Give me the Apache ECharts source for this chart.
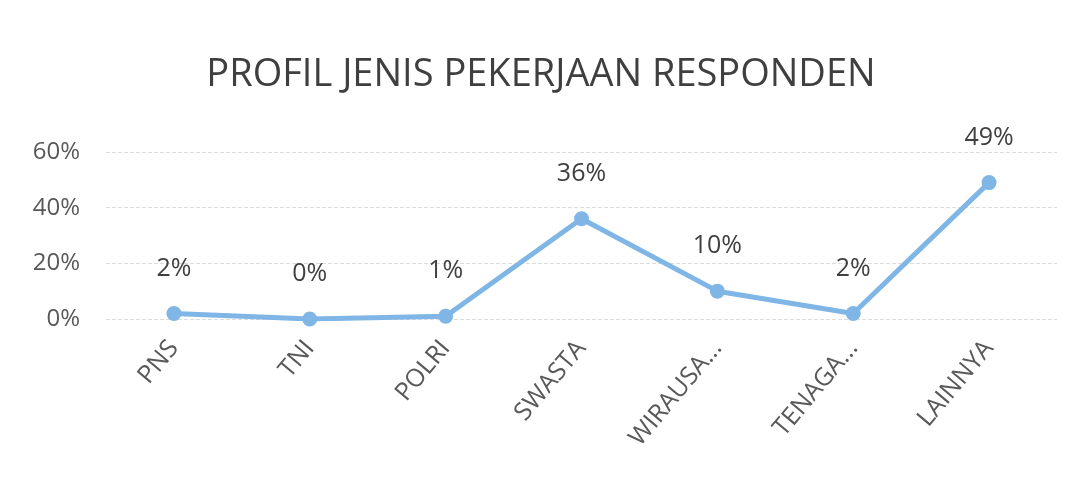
<!DOCTYPE html>
<html>
<head>
<meta charset="utf-8">
<script src="https://cdn.jsdelivr.net/npm/echarts@6/dist/echarts.min.js"></script>
<style>
  html, body { margin: 0; padding: 0; background: #fff; }
  #myChart { width: 1082px; height: 481px; }
</style>
</head>
<body>
<div id="myChart"></div>
<script>
// data
var categories = ['PNS', 'TNI', 'POLRI', 'SWASTA', 'WIRAUSA...', 'TENAGA...', 'LAINNYA']
var percentValues = [2, 0, 1, 36, 10, 2, 49]
var yTicks = [0, 20, 40, 60]

var myChart = echarts.init(document.getElementById('myChart'))
myChart.setOption({
  animation: false,
  title: {
    text: 'PROFIL JENIS PEKERJAAN RESPONDEN',
    left: 'center',
    top: 51,
    textStyle: {
      fontFamily: 'Open Sans',
      fontSize: 38,
      fontWeight: 500,
      color: '#3f3f3f'
    }
  },
  grid: {
    left: 106,
    right: 25,
    top: 152,
    bottom: 162
  },
  xAxis: {
    type: 'category',
    data: categories,
    boundaryGap: true,
    axisLine: { show: false },
    axisTick: { show: false },
    axisLabel: {
      rotate: 50,
      margin: 25,
      fontFamily: 'Open Sans',
      fontSize: 25,
      color: '#595959'
    }
  },
  yAxis: {
    type: 'value',
    min: yTicks[0],
    max: yTicks[yTicks.length - 1],
    interval: 20,
    axisLine: { show: false },
    axisTick: { show: false },
    axisLabel: {
      margin: 26,
      fontFamily: 'Open Sans',
      fontSize: 24,
      color: '#595959',
      formatter: '{value}%'
    },
    splitLine: {
      lineStyle: { color: '#dcdcdc', type: 'dashed', width: 1 }
    }
  },
  series: [
    {
      type: 'line',
      data: percentValues,
      symbol: 'circle',
      symbolSize: 15,
      lineStyle: { color: '#7fb6e6', width: 5 },
      itemStyle: { color: '#7fb6e6' },
      label: {
        show: true,
        position: 'top',
        distance: 25,
        fontFamily: 'Open Sans',
        fontSize: 25,
        color: '#404040',
        formatter: '{c}%'
      }
    }
  ]
})
</script>
</body>
</html>
